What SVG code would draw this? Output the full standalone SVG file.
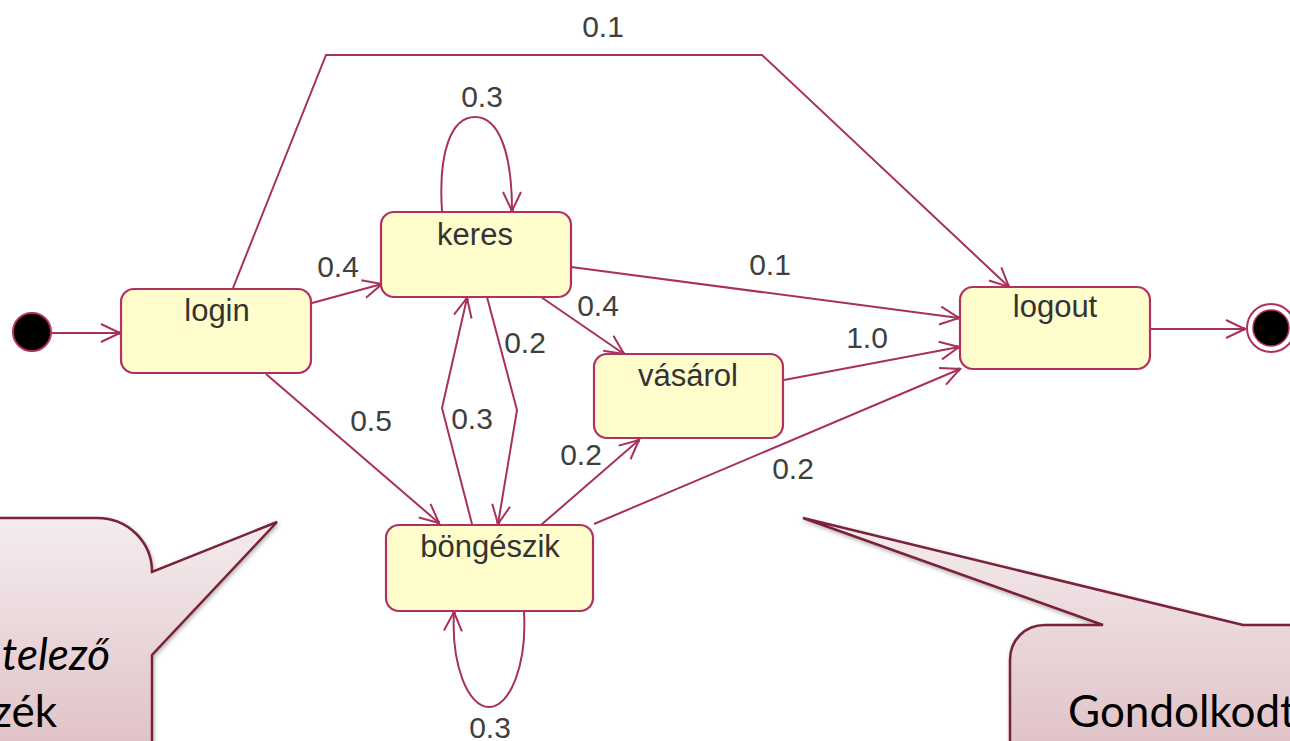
<svg xmlns="http://www.w3.org/2000/svg" width="1290" height="741" viewBox="0 0 1290 741">
<style>
.n{fill:#fffdcb;stroke:#b03060;stroke-width:2.2}
.c{fill:none;stroke:#a8305c;stroke-width:2;marker-end:url(#a)}
.t{font-family:"Liberation Sans",Arial,sans-serif;font-size:31px;fill:#333;text-anchor:middle}
.l{font-family:"Liberation Sans",Arial,sans-serif;font-size:30px;fill:#3f3f3f;text-anchor:middle}
.b{stroke:#7a2038;stroke-width:2.5;stroke-linejoin:miter;filter:url(#s)}
.x{font-family:Lato,"Open Sans",sans-serif;font-size:44px;fill:#000}
</style>
<defs>
<marker id="a" markerUnits="userSpaceOnUse" markerWidth="24" markerHeight="24" refX="20" refY="12" orient="auto" overflow="visible">
<path d="M1 3 L20 12 L1 21" fill="none" stroke="#a8305c" stroke-width="2"/>
<circle cx="18.5" cy="12" r="2" fill="#a8305c"/>
</marker>
<linearGradient id="g1" gradientUnits="userSpaceOnUse" x1="0" y1="518" x2="0" y2="760"><stop offset="0" stop-color="#f4ecee"/><stop offset="1" stop-color="#dfc0c5"/></linearGradient>
<filter id="s" x="-10%" y="-10%" width="120%" height="120%"><feDropShadow dx="1" dy="2" stdDeviation="2" flood-color="#000" flood-opacity="0.3"/></filter>
</defs>

<g id="connectors">
<path class="c" d="M50 333H120"/>
<path class="c" d="M233 288L326 55H762L1009 287"/>
<path class="c" d="M312 303L382 284"/>
<path class="c" d="M266 374L439 523"/>
<path class="c" d="M442 211C438 150 452 117 475 117C498 117 512 150 512 211"/>
<path class="c" d="M571 267L959 318"/>
<path class="c" d="M541 297L624 354"/>
<path class="c" d="M487 297L517 410L498 524"/>
<path class="c" d="M472 524L442 408L467 298"/>
<path class="c" d="M541 525L639 440"/>
<path class="c" d="M784 380L959 347"/>
<path class="c" d="M594 524L960 369"/>
<path class="c" d="M524 612C527 665 510 707 489 707C468 707 451 665 454 612"/>
<path class="c" d="M1150 329H1245"/>
</g>

<g id="start"><circle cx="32" cy="332" r="19" fill="#000" stroke="#b03060" stroke-width="2"/></g>
<g id="end"><circle cx="1271" cy="328" r="24" fill="#fff" stroke="#b03060" stroke-width="2"/><circle cx="1271" cy="328" r="18" fill="#000" stroke="#b03060" stroke-width="1.5"/></g>

<g id="login"><rect class="n" x="121" y="289" width="190" height="84" rx="13"/><text class="t" x="217" y="321">login</text></g>
<g id="keres"><rect class="n" x="381" y="212" width="190" height="85" rx="13"/><text class="t" x="475" y="245">keres</text></g>
<g id="vasarol"><rect class="n" x="594" y="354" width="189" height="84" rx="13"/><text class="t" x="688" y="386">vásárol</text></g>
<g id="bongeszik"><rect class="n" x="386" y="525" width="207" height="86" rx="13"/><text class="t" x="490" y="557">böngészik</text></g>
<g id="logout"><rect class="n" x="960" y="287" width="190" height="82" rx="13"/><text class="t" x="1055" y="317">logout</text></g>

<g id="labels">
<text class="l" x="603" y="37">0.1</text>
<text class="l" x="482" y="107">0.3</text>
<text class="l" x="338" y="277">0.4</text>
<text class="l" x="770" y="275">0.1</text>
<text class="l" x="598" y="316">0.4</text>
<text class="l" x="525" y="353">0.2</text>
<text class="l" x="867" y="348">1.0</text>
<text class="l" x="371" y="431">0.5</text>
<text class="l" x="472" y="429">0.3</text>
<text class="l" x="581" y="465">0.2</text>
<text class="l" x="793" y="479">0.2</text>
<text class="l" x="490" y="738">0.3</text>
</g>

<g id="callout-left">
<path class="b" fill="url(#g1)" d="M-5 518H97C128 518 152 542 152 572L277 522L152 655V746H-5Z"/>
<text class="x" x="110" y="670" text-anchor="end" font-style="italic">telező</text>
<text class="x" x="57" y="727" text-anchor="end">zék</text>
</g>
<g id="callout-right">
<path class="b" fill="url(#g1)" d="M803 518L1103 625H1045C1025 625 1010 640 1010 660V746H1295V625H1243Z"/>
<text class="x" x="1068" y="727">Gondolkodt</text>
</g>
</svg>
